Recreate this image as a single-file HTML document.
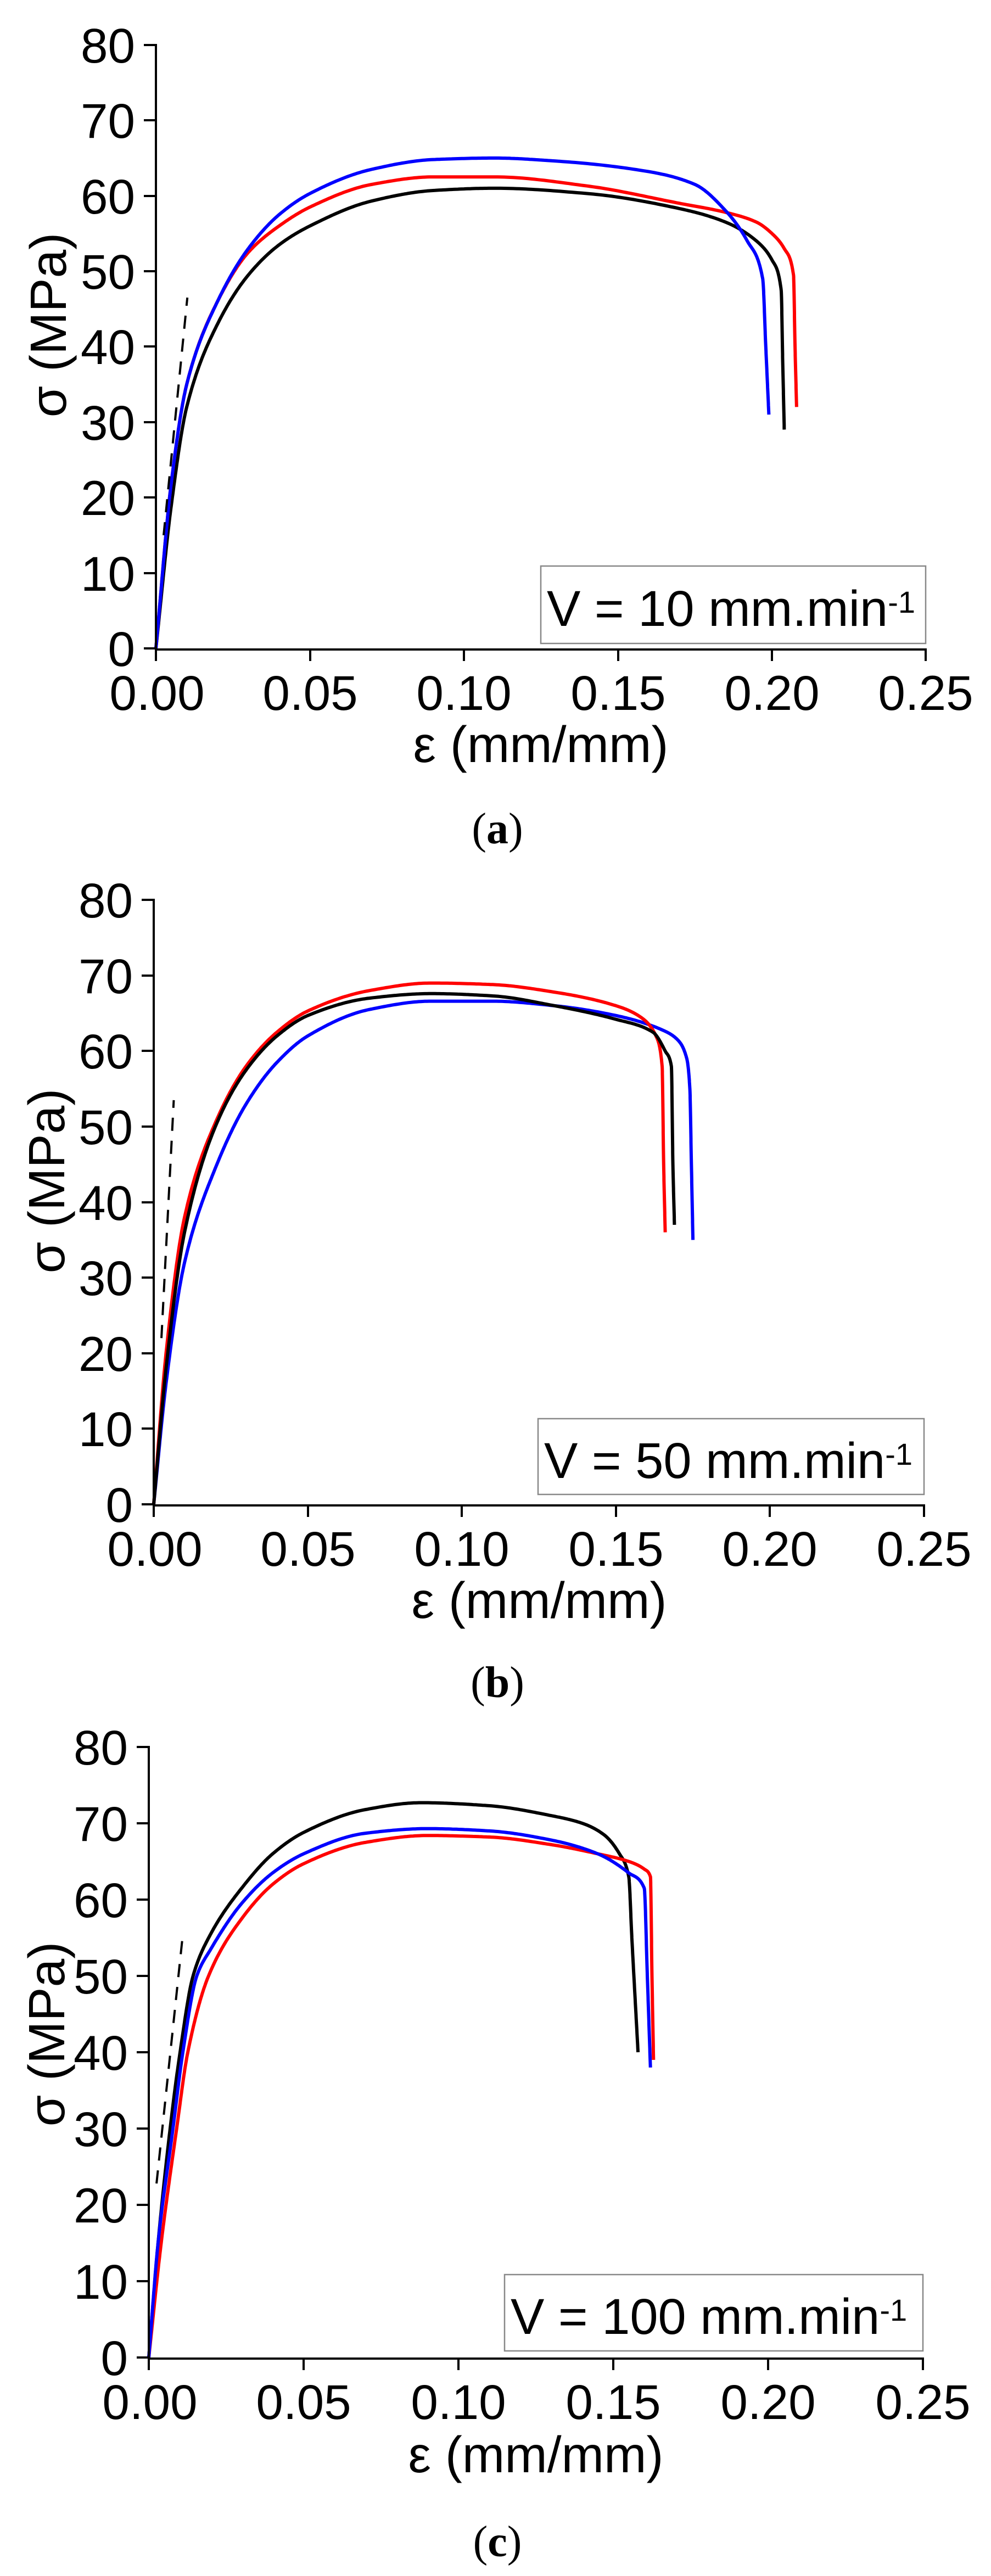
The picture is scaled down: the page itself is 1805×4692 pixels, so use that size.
<!DOCTYPE html>
<html><head><meta charset="utf-8">
<style>
html,body{margin:0;padding:0;background:#fff;}
svg{display:block;}
.t{font-family:"Liberation Sans",sans-serif;font-size:89px;fill:#000;}
.ti{font-family:"Liberation Sans",sans-serif;font-size:93px;fill:#000;}
.lg{font-family:"Liberation Sans",sans-serif;font-size:92px;fill:#000;}
.sp{font-family:"Liberation Sans",sans-serif;font-size:56px;fill:#000;}
.cap{font-family:"Liberation Serif",serif;font-size:80px;fill:#000;}
</style></head><body>
<svg id="s" width="1805" height="4692" viewBox="0 0 1805 4692" xmlns="http://www.w3.org/2000/svg">
<rect width="1805" height="4692" fill="#fff"/>
<g id="curves"></g>

<!-- Panel A -->
<g stroke="#000" stroke-width="4" fill="none">
<path d="M284,80 V1183 H1686"/>
<path d="M262,82H284M262,219H284M262,357H284M262,494H284M262,631H284M262,769H284M262,906H284M262,1044H284M262,1181H284"/>
<path d="M284,1181V1204M565,1181V1204M845,1181V1204M1126,1181V1204M1406,1181V1204M1686,1181V1204"/>
</g>
<g class="t" text-anchor="end">
<text x="246" y="114">80</text><text x="246" y="251">70</text><text x="246" y="389">60</text>
<text x="246" y="526">50</text><text x="246" y="663">40</text><text x="246" y="801">30</text>
<text x="246" y="938">20</text><text x="246" y="1076">10</text><text x="246" y="1213">0</text>
</g>
<g class="t" text-anchor="middle">
<text x="286" y="1293">0.00</text><text x="565" y="1293">0.05</text><text x="845" y="1293">0.10</text>
<text x="1126" y="1293">0.15</text><text x="1406" y="1293">0.20</text><text x="1686" y="1293">0.25</text>
</g>
<text class="ti" x="985" y="1388" text-anchor="middle">ε (mm/mm)</text>
<text class="ti" transform="translate(120,592) rotate(-90)" text-anchor="middle">σ (MPa)</text>
<rect x="985" y="1031" width="701" height="141" fill="none" stroke="#888" stroke-width="2.5"/>
<text class="lg" x="996" y="1140">V = 10 mm.min<tspan class="sp" dy="-24">-1</tspan></text>
<text class="cap" x="906" y="1536" text-anchor="middle">(<tspan font-weight="bold">a</tspan>)</text>

<!-- Panel B -->
<g stroke="#000" stroke-width="4" fill="none">
<path d="M280,1637 V2742 H1683"/>
<path d="M258,1639H280M258,1777H280M258,1914H280M258,2052H280M258,2190H280M258,2327H280M258,2465H280M258,2602H280M258,2740H280"/>
<path d="M280,2740V2763M561,2740V2763M841,2740V2763M1122,2740V2763M1402,2740V2763M1683,2740V2763"/>
</g>
<g class="t" text-anchor="end">
<text x="242" y="1671">80</text><text x="242" y="1809">70</text><text x="242" y="1946">60</text>
<text x="242" y="2084">50</text><text x="242" y="2222">40</text><text x="242" y="2359">30</text>
<text x="242" y="2497">20</text><text x="242" y="2634">10</text><text x="242" y="2772">0</text>
</g>
<g class="t" text-anchor="middle">
<text x="282" y="2852">0.00</text><text x="561" y="2852">0.05</text><text x="841" y="2852">0.10</text>
<text x="1122" y="2852">0.15</text><text x="1402" y="2852">0.20</text><text x="1683" y="2852">0.25</text>
</g>
<text class="ti" x="982" y="2947" text-anchor="middle">ε (mm/mm)</text>
<text class="ti" transform="translate(117,2151) rotate(-90)" text-anchor="middle">σ (MPa)</text>
<rect x="980" y="2584" width="703" height="138" fill="none" stroke="#888" stroke-width="2.5"/>
<text class="lg" x="991" y="2692">V = 50 mm.min<tspan class="sp" dy="-24">-1</tspan></text>
<text class="cap" x="906" y="3091" text-anchor="middle">(<tspan font-weight="bold">b</tspan>)</text>

<!-- Panel C -->
<g stroke="#000" stroke-width="4" fill="none">
<path d="M271,3180 V4296 H1681"/>
<path d="M249,3182H271M249,3321H271M249,3460H271M249,3599H271M249,3738H271M249,3877H271M249,4016H271M249,4155H271M249,4294H271"/>
<path d="M271,4294V4317M553,4294V4317M835,4294V4317M1117,4294V4317M1399,4294V4317M1681,4294V4317"/>
</g>
<g class="t" text-anchor="end">
<text x="233" y="3214">80</text><text x="233" y="3353">70</text><text x="233" y="3492">60</text>
<text x="233" y="3631">50</text><text x="233" y="3770">40</text><text x="233" y="3909">30</text>
<text x="233" y="4048">20</text><text x="233" y="4187">10</text><text x="233" y="4326">0</text>
</g>
<g class="t" text-anchor="middle">
<text x="273" y="4406">0.00</text><text x="553" y="4406">0.05</text><text x="835" y="4406">0.10</text>
<text x="1117" y="4406">0.15</text><text x="1399" y="4406">0.20</text><text x="1681" y="4406">0.25</text>
</g>
<text class="ti" x="976" y="4503" text-anchor="middle">ε (mm/mm)</text>
<text class="ti" transform="translate(117,3705) rotate(-90)" text-anchor="middle">σ (MPa)</text>
<rect x="919" y="4143" width="762" height="139" fill="none" stroke="#888" stroke-width="2.5"/>
<text class="lg" x="930" y="4251">V = 100 mm.min<tspan class="sp" dy="-24">-1</tspan></text>
<text class="cap" x="906" y="4656" text-anchor="middle">(<tspan font-weight="bold">c</tspan>)</text>
</svg>
<script>
(function(){
var g=document.getElementById('curves');
function mono(pts){
 var n=pts.length,xs=pts.map(function(p){return p[0];}),ys=pts.map(function(p){return p[1];});
 var d=[],m=[];
 for(var i=0;i<n-1;i++)d.push((ys[i+1]-ys[i])/(xs[i+1]-xs[i]));
 m[0]=d[0];m[n-1]=d[n-2];
 for(i=1;i<n-1;i++){
  if(d[i-1]*d[i]<=0)m[i]=0;
  else{var w1=2*(xs[i+1]-xs[i])+(xs[i]-xs[i-1]),w2=(xs[i+1]-xs[i])+2*(xs[i]-xs[i-1]);
   m[i]=(w1+w2)/(w1/d[i-1]+w2/d[i]);}
 }
 var out=[];
 for(i=0;i<n-1;i++){
  var h=xs[i+1]-xs[i];
  for(var k=0;k<30;k++){
   var t=k/30,t2=t*t,t3=t2*t;
   var y=(2*t3-3*t2+1)*ys[i]+(t3-2*t2+t)*h*m[i]+(-2*t3+3*t2)*ys[i+1]+(t3-t2)*h*m[i+1];
   out.push([xs[i]+t*h,y]);
  }
 }
 out.push(pts[n-1]);
 return out;
}
function path(pts,X0,Y0,sx,sy){
 var P=mono(pts);
 return 'M'+P.map(function(p){return (X0+p[0]*sx).toFixed(1)+','+(Y0-p[1]*sy).toFixed(1);}).join('L');
}
function add(d,col,w,dash){
 var e=document.createElementNS('http://www.w3.org/2000/svg','path');
 e.setAttribute('d',d);e.setAttribute('fill','none');e.setAttribute('stroke',col);
 e.setAttribute('stroke-width',w);e.setAttribute('stroke-linejoin','round');
 if(dash)e.setAttribute('stroke-dasharray',dash);
 g.appendChild(e);
}
var panels=[
 {X0:284,Y0:1181,sx:5610,sy:13.74,
  dash:[[0.0025,15],[0.0102,46.5]],
  c:[
  ['#000',[[0,0],[0.005,19],[0.01,32],[0.02,43],[0.03,49.5],[0.04,53.5],[0.05,56],[0.07,59.3],[0.09,60.7],[0.11,61],[0.14,60.3],[0.17,58.3],[0.185,56.5],[0.195,54],[0.2,51.5],[0.203,47.5],[0.2035,38],[0.204,29]]],
  ['#f00',[[0,0],[0.005,22],[0.01,35],[0.02,46],[0.03,52.5],[0.04,56],[0.05,58.5],[0.07,61.5],[0.09,62.5],[0.11,62.5],[0.14,61.3],[0.17,59],[0.185,57.8],[0.195,56.5],[0.2,55],[0.204,53],[0.207,49.5],[0.2075,40],[0.208,32]]],
  ['#00f',[[0,0],[0.005,22],[0.01,35],[0.02,46],[0.03,53],[0.04,57.5],[0.05,60.3],[0.07,63.5],[0.09,64.8],[0.11,65],[0.13,64.6],[0.16,63.2],[0.175,61.5],[0.185,58],[0.192,54],[0.197,49],[0.198,40],[0.199,31]]]
 ]},
 {X0:280,Y0:2740,sx:5612,sy:13.76,
  dash:[[0.0025,22],[0.0065,53.5]],
  c:[
  ['#00f',[[0,0],[0.004,16],[0.01,32],[0.02,44.5],[0.03,53],[0.04,58.5],[0.05,62],[0.07,65.5],[0.09,66.6],[0.11,66.6],[0.13,66],[0.15,64.7],[0.165,62.8],[0.17,61.5],[0.173,59],[0.174,55],[0.1745,45],[0.175,35]]],
  ['#f00',[[0,0],[0.004,20],[0.01,38],[0.02,50.5],[0.03,58],[0.04,62.5],[0.05,65.3],[0.07,68],[0.09,69],[0.11,68.8],[0.13,67.8],[0.15,66],[0.158,64.5],[0.163,62],[0.165,58],[0.1655,45],[0.166,36]]],
  ['#000',[[0,0],[0.004,18],[0.01,36],[0.02,50],[0.03,57.5],[0.04,62],[0.05,64.7],[0.07,67],[0.09,67.6],[0.11,67.3],[0.13,66],[0.15,64.2],[0.162,62.5],[0.166,60],[0.168,58],[0.1685,45],[0.169,37]]]
 ]},
 {X0:271,Y0:4294,sx:5640,sy:13.9,
  dash:[[0.0025,22.8],[0.0108,54.7]],
  c:[
  ['#000',[[0,0],[0.003,15],[0.0069,30],[0.0101,40],[0.0143,50],[0.02,55.5],[0.03,61.5],[0.04,66],[0.05,68.8],[0.07,71.8],[0.088,72.7],[0.11,72.3],[0.13,71],[0.14,70],[0.147,68.5],[0.152,66],[0.155,63],[0.156,55],[0.158,40]]],
  ['#f00',[[0,0],[0.004,15],[0.009,30],[0.0126,40],[0.0193,50],[0.03,57.5],[0.04,62],[0.05,64.7],[0.07,67.5],[0.09,68.4],[0.11,68.2],[0.13,67.2],[0.145,66],[0.155,65],[0.16,64],[0.162,63],[0.1625,50],[0.163,39]]],
  ['#00f',[[0,0],[0.003,15],[0.0078,30],[0.011,40],[0.0155,50],[0.02,53.5],[0.03,59.5],[0.04,63.5],[0.05,66],[0.07,68.7],[0.09,69.3],[0.11,69],[0.13,67.8],[0.145,66],[0.155,63.5],[0.16,61.5],[0.161,50],[0.162,38]]]
 ]}
];
panels.forEach(function(p){
 p.c.forEach(function(c){add(path(c[1],p.X0,p.Y0,p.sx,p.sy),c[0],6);});
 var a=p.dash;
 add('M'+(p.X0+a[0][0]*p.sx)+','+(p.Y0-a[0][1]*p.sy)+'L'+(p.X0+a[1][0]*p.sx)+','+(p.Y0-a[1][1]*p.sy),'#000',4,'24,18');
});
})();
</script>
</body></html>
